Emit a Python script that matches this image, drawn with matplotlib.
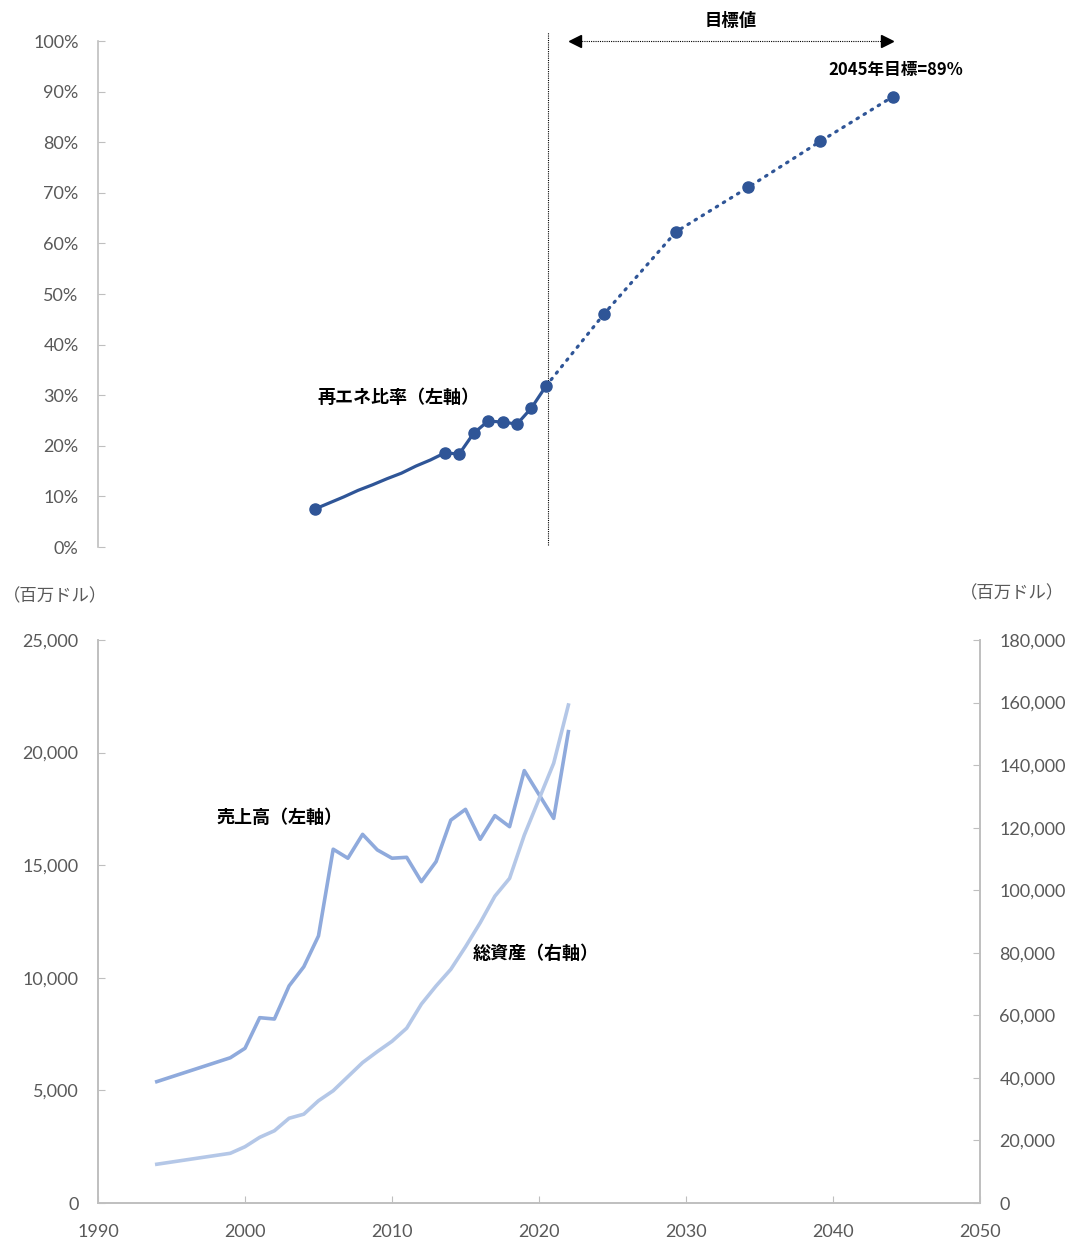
import matplotlib.pyplot as plt
from matplotlib.ticker import FuncFormatter, MultipleLocator

plt.rcParams['font.family'] = ['Lato', 'Noto Sans CJK JP', 'DejaVu Sans']

JP = ['Noto Sans CJK JP', 'DejaVu Sans']

# renewable share, actual (%)
share_years = [2005, 2006, 2007, 2008, 2009, 2010, 2011, 2012, 2013, 2014,
               2015, 2016, 2017, 2018, 2019, 2020, 2021]
share_values = [7.5, 8.7, 9.9, 11.2, 12.3, 13.5, 14.6, 16.0, 17.2, 18.6,
                18.4, 22.5, 24.9, 24.7, 24.3, 27.5, 31.8]
# years that carry a marker
share_marked = [2005, 2014, 2015, 2016, 2017, 2018, 2019, 2020, 2021]

# renewable share targets (%)
target_years = [2021, 2025, 2030, 2035, 2040, 2045]
target_values = [31.8, 46.0, 62.3, 71.1, 80.2, 89.0]

# sales (left axis) and total assets (right axis), million USD
fin_years = [1994, 1999, 2000, 2001, 2002, 2003, 2004, 2005, 2006, 2007,
             2008, 2009, 2010, 2011, 2012, 2013, 2014, 2015, 2016, 2017,
             2018, 2019, 2020, 2021, 2022]
sales = [5390, 6450, 6870, 8230, 8170, 9640, 10490, 11860, 15710, 15310,
         16370, 15680, 15310, 15350, 14270, 15160, 17000, 17480, 16150, 17200,
         16710, 19200, 18140, 17080, 20930]
assets = [12400, 15900, 18000, 21000, 23100, 27100, 28400, 32700, 35900, 40400,
          44900, 48400, 51700, 55900, 63600, 69400, 74700, 81900, 89600, 98100,
          103800, 117600, 129100, 140600, 159200]

DARK = '#2F5597'
SALES_C = '#8FAADC'
ASSET_C = '#B4C7E7'
AXIS_C = '#BFBFBF'
TEXT_C = '#595959'

fig = plt.figure(figsize=[10.71, 12.41], dpi=100)

# ---------- upper panel: renewable share ----------
ax1 = fig.add_axes([0.0915, 0.5592, 0.8095, 0.4077])
ax1.plot(share_years, share_values, color=DARK, lw=2.3, solid_capstyle='round', zorder=3)
mk_vals = [share_values[share_years.index(y)] for y in share_marked]
ax1.plot(share_marked, mk_vals, 'o', color=DARK, ms=8, zorder=4)
ax1.plot(target_years, target_values, color=DARK, lw=2.3,
         linestyle=(0, (0.5, 2.1)), dash_capstyle='round', zorder=3)
ax1.plot(target_years[1:], target_values[1:], 'o', color=DARK, ms=8, zorder=4)

ax1.set_xlim(1990, 2050)
ax1.set_ylim(0, 100)
ax1.yaxis.set_major_locator(MultipleLocator(10))
ax1.yaxis.set_major_formatter(FuncFormatter(lambda v, p: f'{v:.0f}%'))
ax1.tick_params(axis='y', direction='in', length=5, color=AXIS_C,
                labelsize=13, labelcolor=TEXT_C, pad=14)
ax1.set_xticks([])
for side in ['top', 'right', 'bottom']:
    ax1.spines[side].set_visible(False)
ax1.spines['left'].set_color(AXIS_C)
ax1.spines['left'].set_linewidth(1.2)

# boundary between actual values and targets
ax1.plot([2021.15, 2021.15], [0.4, 101.8], color='black', lw=0.8,
         linestyle=(0, (1, 1)), clip_on=False, zorder=2)

# target range arrow
ax1.plot([2023.0, 2044.6], [100, 100], color='black', lw=0.8,
         linestyle=(0, (1, 1)), clip_on=False)
ax1.plot([2023.0], [100], marker='<', color='black', ms=9, clip_on=False)
ax1.plot([2044.6], [100], marker='>', color='black', ms=9, clip_on=False)
ax1.text(2033.8, 104.0, '目標値', ha='center', va='center', fontsize=12.5,
         fontweight='bold', family=JP)
ax1.text(2045.2, 94.3, '2045年目標=89%', ha='center', va='center', fontsize=12,
         fontweight='bold', family=JP)
ax1.text(2010.8, 29.6, '再エネ比率（左軸）', ha='center', va='center', fontsize=13,
         fontweight='bold', family=JP)

# ---------- lower panel: sales and total assets ----------
ax2 = fig.add_axes([0.0915, 0.0306, 0.8235, 0.4537])
ax3 = ax2.twinx()
ax2.plot(fin_years, sales, color=SALES_C, lw=2.6, zorder=3)
ax3.plot(fin_years, assets, color=ASSET_C, lw=2.6, zorder=2)

ax2.set_xlim(1990, 2050)
ax2.set_ylim(0, 25000)
ax3.set_ylim(0, 180000)
ax2.xaxis.set_major_locator(MultipleLocator(10))
ax2.yaxis.set_major_locator(MultipleLocator(5000))
ax3.yaxis.set_major_locator(MultipleLocator(20000))
comma = FuncFormatter(lambda v, p: f'{v:,.0f}')
ax2.yaxis.set_major_formatter(comma)
ax3.yaxis.set_major_formatter(comma)

ax2.tick_params(axis='y', direction='in', length=5, color=AXIS_C,
                labelsize=13, labelcolor=TEXT_C, pad=14)
ax2.tick_params(axis='x', direction='in', length=5, color=AXIS_C,
                labelsize=13, labelcolor=TEXT_C, pad=15)
ax3.tick_params(axis='y', direction='in', length=5, color=AXIS_C,
                labelsize=13, labelcolor=TEXT_C, pad=14)
for a in (ax2, ax3):
    a.spines['top'].set_visible(False)
    for side in ['left', 'right', 'bottom']:
        a.spines[side].set_color(AXIS_C)
        a.spines[side].set_linewidth(1.2)

ax2.text(2002.35, 17100, '売上高（左軸）', ha='center', va='center', fontsize=13,
         fontweight='bold', family=JP)
ax2.text(2019.8, 11060, '総資産（右軸）', ha='center', va='center', fontsize=13,
         fontweight='bold', family=JP)

fig.text(55 / 1071, 1 - 596 / 1241, '（百万ドル）', ha='center', va='center',
         fontsize=12.5, color=TEXT_C, family=JP)
fig.text(1012 / 1071, 1 - 593 / 1241, '（百万ドル）', ha='center', va='center',
         fontsize=12.5, color=TEXT_C, family=JP)

fig.savefig('out.png', dpi=100)
